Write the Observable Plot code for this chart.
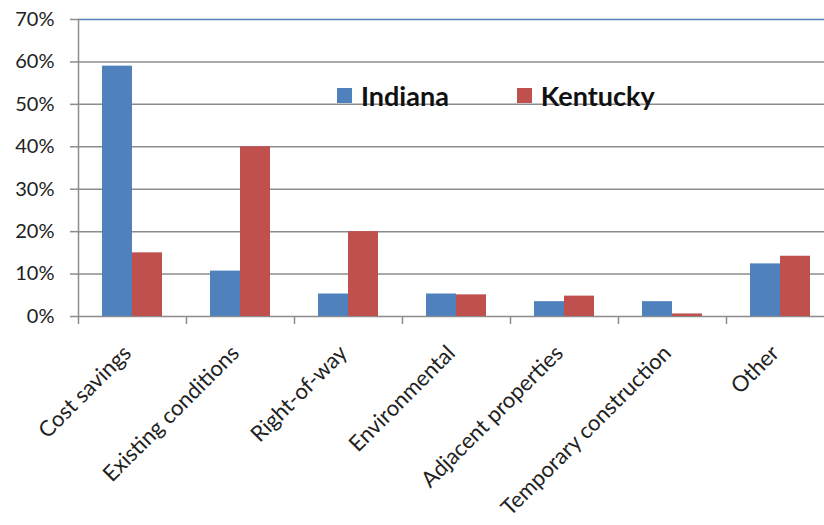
<!DOCTYPE html>
<html>
<head>
<meta charset="utf-8">
<script src="https://cdn.jsdelivr.net/npm/d3@7"></script>
<script src="https://cdn.jsdelivr.net/npm/@observablehq/plot@0.6"></script>
<style>
  html, body { margin: 0; padding: 0; background: #fff; overflow: hidden; }
  #wrap { position: relative; width: 824px; height: 525px; }
  .legend { position: absolute; top: 79px; left: 337px; display: flex; align-items: center;
            font-family: Lato, "Open Sans", sans-serif; font-weight: bold; font-size: 27px; color: #111; }
  .legend .item { display: flex; align-items: center; }
  .legend .sw { width: 15px; height: 15px; margin-right: 9px; }
</style>
</head>
<body>
<div id="wrap"></div>
<script>
const categories = ["Cost savings", "Existing conditions", "Right-of-way", "Environmental",
                    "Adjacent properties", "Temporary construction", "Other"];
const series = ["Indiana", "Kentucky"];
const indiana  = [0.59, 0.107, 0.053, 0.053, 0.035, 0.035, 0.124];
const kentucky = [0.15, 0.40, 0.20, 0.051, 0.048, 0.006, 0.142];
const seriesColors = ["#4F81BD", "#C0504D"];
const yTicks = [0, 0.1, 0.2, 0.3, 0.4, 0.5, 0.6, 0.7];

const data = [];
categories.forEach((c, i) => {
  data.push({category: c, state: "Indiana", value: indiana[i]});
  data.push({category: c, state: "Kentucky", value: kentucky[i]});
});

const halfBand = (834 - 78) / categories.length / 2;

const chart = Plot.plot({
  width: 824,
  height: 525,
  marginLeft: 78,
  marginRight: -10,
  marginTop: 19,
  marginBottom: 209,
  style: {fontFamily: "Lato, 'Open Sans', sans-serif", fontSize: "20px", color: "#222", background: "#fff"},
  fx: {domain: categories, padding: 0, label: null},
  x: {domain: series, paddingInner: 0, paddingOuter: 0.742, axis: null},
  y: {domain: [0, 0.7], label: null},
  color: {domain: series, range: seriesColors},
  marks: [
    Plot.ruleY(yTicks.slice(0, -1), {stroke: "#8c8c8c", strokeWidth: 1.5}),
    Plot.ruleY(yTicks.slice(-1), {stroke: "#4F81BD", strokeWidth: 1.5}),
    Plot.barY(data, {fx: "category", x: "state", y: "value", fill: "state"}),
    Plot.axisY({ticks: yTicks, tickFormat: d3.format(".0%"), tickSize: 8, tickPadding: 16,
                stroke: "#8c8c8c", strokeWidth: 1.5, fill: "#222", fontSize: 20, label: null}),
    Plot.frame({anchor: "left", facetAnchor: "left", stroke: "#8c8c8c", strokeWidth: 1.5}),
    Plot.axisFx({anchor: "bottom", tickSize: 8, dx: -halfBand, tickFormat: () => "",
                 stroke: "#8c8c8c", strokeWidth: 1.5, label: null}),
    Plot.axisFx({anchor: "bottom", tickSize: 0, tickRotate: -45, tickPadding: 18, dx: -5, dy: 15,
                 fontSize: 22, fill: "#222", label: null})
  ]
});

const wrap = document.getElementById("wrap");
wrap.appendChild(chart);

const legend = document.createElement("div");
legend.className = "legend";
series.forEach((s, i) => {
  const item = document.createElement("div");
  item.className = "item";
  if (i > 0) item.style.marginLeft = "68px";
  const sw = document.createElement("div");
  sw.className = "sw";
  sw.style.background = seriesColors[i];
  const t = document.createElement("span");
  t.textContent = s;
  item.appendChild(sw);
  item.appendChild(t);
  legend.appendChild(item);
});
wrap.appendChild(legend);
</script>
</body>
</html>
